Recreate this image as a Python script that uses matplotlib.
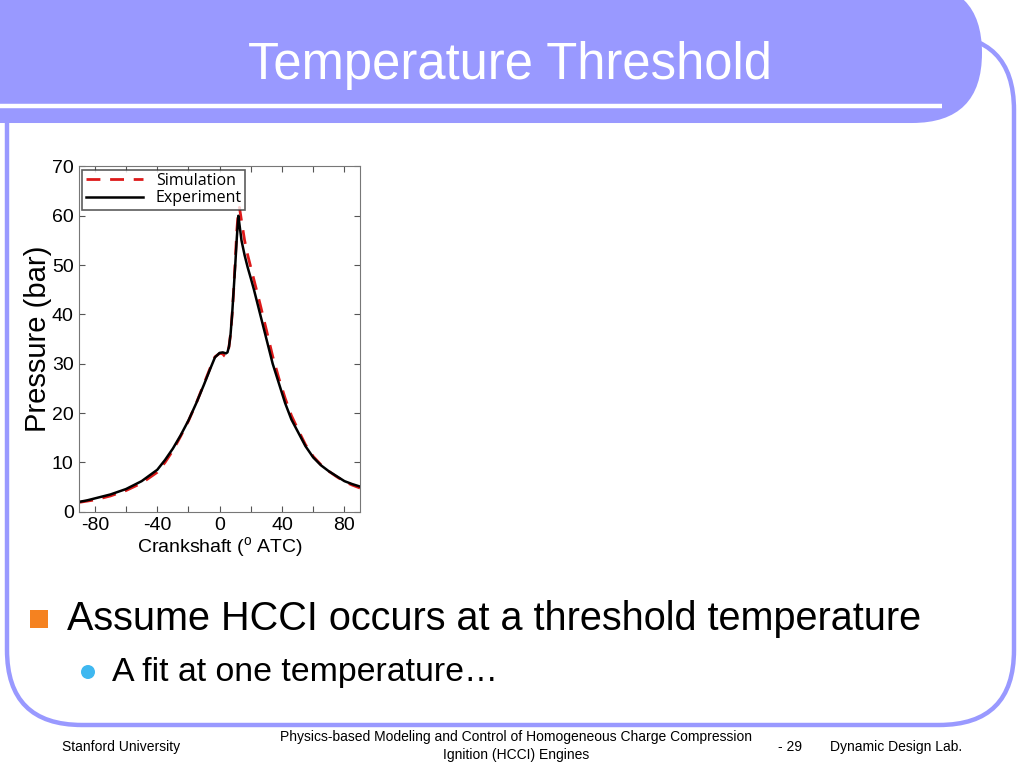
import matplotlib.pyplot as plt
import numpy as np
from matplotlib.patches import FancyBboxPatch, Rectangle, Circle

plt.rcParams['font.family'] = ['Liberation Sans', 'DejaVu Sans']
plt.rcParams['mathtext.fontset'] = 'custom'
plt.rcParams['mathtext.rm'] = 'Liberation Sans'

# chart data
crank_exp = [-90, -85, -80, -70, -60, -50, -40, -35, -30, -25, -20, -15, -10, -6, -3, 0, 2, 4, 5,
             6, 7, 8, 9, 10, 11, 12, 13, 14, 16, 18, 20, 22, 24, 26, 30, 34, 38, 42, 46, 50,
             55, 60, 65, 70, 75, 80, 85, 90]
pressure_exp = [2.0, 2.3, 2.7, 3.5, 4.6, 6.2, 8.5, 10.5, 12.8, 15.5, 18.5, 22.0, 25.8, 29.0, 31.3,
                32.2, 32.3, 32.1, 32.3, 33.5, 36.0, 40.0, 45.0, 50.0, 55.5, 60.0, 57.5, 55.0, 52.0,
                49.5, 47.3, 45.0, 42.5, 40.0, 35.0, 30.0, 26.0, 22.0, 18.7, 16.3, 13.3, 11.0, 9.4,
                8.2, 7.2, 6.2, 5.6, 5.1]

crank_sim = [-90, -80, -70, -60, -50, -40, -35, -30, -25, -20, -15, -10, -6, -3, 0, 2, 3, 4, 5,
             6, 7, 8, 9, 10, 11, 12, 12.7, 14, 16, 18, 20, 22, 24, 26, 30, 34, 38, 42, 46, 50,
             55, 60, 65, 70, 75, 80, 85, 90]
pressure_sim = [1.9, 2.4, 3.2, 4.3, 5.8, 8.0, 10.0, 12.4, 15.3, 18.4, 22.0, 26.0, 29.2, 31.4, 32.1,
                32.0, 31.6, 31.4, 31.8, 33.5, 36.0, 40.0, 45.0, 51.0, 57.0, 61.0, 61.7, 59.0, 55.0,
                52.0, 49.5, 47.0, 44.5, 42.0, 36.8, 31.5, 27.0, 23.0, 19.5, 16.8, 13.6, 11.2, 9.5,
                8.2, 7.1, 6.1, 5.4, 4.8]

x_ticks = [-80, -60, -40, -20, 0, 20, 40, 60, 80]
x_labels = ['-80', '', '-40', '', '0', '', '40', '', '80']
y_ticks = [0, 10, 20, 30, 40, 50, 60, 70]

lavender = '#9999FF'

fig = plt.figure(figsize=(10.24, 7.68), dpi=100)
fig.patch.set_facecolor('white')

# slide background drawn in pixel coordinates
bg = fig.add_axes([0, 0, 1, 1])
bg.set_xlim(0, 1024)
bg.set_ylim(768, 0)
bg.axis('off')

frame = FancyBboxPatch((7 + 75, 35 + 75), 1014 - 7 - 150, 725 - 35 - 150,
                       boxstyle='round,pad=75', fill=False, ec=lavender, lw=3.2)
bg.add_patch(frame)
band = FancyBboxPatch((-100 + 70, 53), 982 + 100 - 140, 0.01,
                      boxstyle='round,pad=70', fc=lavender, ec='none')
bg.add_patch(band)
bg.plot([0, 942], [106, 106], color='white', lw=3.2, solid_capstyle='butt')

bg.text(510, 79, 'Temperature Threshold', color='white', fontsize=36.5,
        ha='center', va='baseline')

bg.add_patch(Rectangle((30, 610), 18, 18, fc='#F58220', ec='none'))
bg.text(67, 630, 'Assume HCCI occurs at a threshold temperature', fontsize=28.5,
        ha='left', va='baseline')
bg.add_patch(Circle((88, 672), 7, fc='#3FB8F0', ec='none'))
bg.text(112, 681, 'A fit at one temperature…', fontsize=24.4,
        ha='left', va='baseline')

bg.text(62, 747, 'Stanford University', fontsize=10, ha='left', va='center')
bg.text(516, 737, 'Physics-based Modeling and Control of Homogeneous Charge Compression',
        fontsize=10, ha='center', va='center')
bg.text(516, 755, 'Ignition (HCCI) Engines', fontsize=10, ha='center', va='center')
bg.text(778, 747, '- 29', fontsize=10, ha='left', va='center')
bg.text(830, 747, 'Dynamic Design Lab.', fontsize=10, ha='left', va='center')

# the pressure chart
ax = fig.add_axes([0.0774, 0.3337, 0.2742, 0.4496])
ax.plot(crank_sim, pressure_sim, color='#DD1A1A', lw=2, ls=(0, (5, 3.5)), label='Simulation')
ax.plot(crank_exp, pressure_exp, color='black', lw=1.8, label='Experiment')
ax.set_xlim(-90, 90)
ax.set_ylim(0, 70)
ax.set_xticks(x_ticks)
ax.set_xticklabels(x_labels)
ax.set_yticks(y_ticks)
ax.tick_params(direction='in', top=True, right=True, labelsize=14, length=4, color='#555555', pad=4)
for s in ax.spines.values():
    s.set_color('#777777')
    s.set_linewidth(0.8)
ax.set_ylabel('Pressure (bar)', fontsize=21, labelpad=0)
ax.set_xlabel(r'Crankshaft ($^{\mathrm{o}}$ ATC)', fontsize=14, labelpad=1)
leg = ax.legend(loc='upper left', frameon=True, fancybox=False,
                edgecolor='#333333', borderpad=0.2, handlelength=3.6, labelspacing=0.1,
                borderaxespad=0.2, handletextpad=0.8, prop={'family': 'Open Sans', 'size': 11.5})
leg.get_frame().set_linewidth(1.2)

fig.savefig('out.png', dpi=100)
